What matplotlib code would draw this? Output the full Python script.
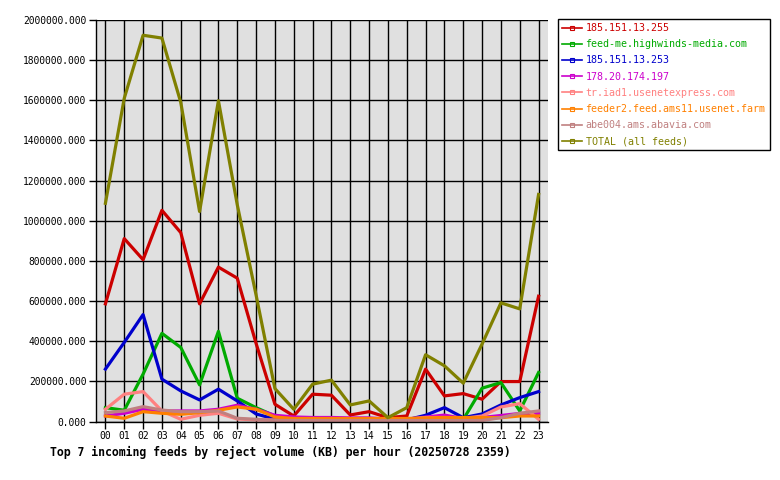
import numpy as np
import matplotlib.pyplot as plt

hours = ["%02d" % h for h in range(24)]

feeds = ["185.151.13.255", "feed-me.highwinds-media.com", "185.151.13.253",
         "178.20.174.197", "tr.iad1.usenetexpress.com", "feeder2.feed.ams11.usenet.farm",
         "abe004.ams.abavia.com", "TOTAL (all feeds)"]
colors = ["#cc0000", "#00aa00", "#0000cc", "#cc00cc", "#ff8080", "#ff8000", "#c08080", "#808000"]

# KB per hour
red = [586000, 911000, 806000, 1052000, 941000, 586000, 769000, 714000, 389000, 86000,
       27500, 136000, 131000, 32500, 49000, 19000, 27500, 261000, 127500, 139000,
       111000, 199000, 199000, 624000]
green = [69000, 56000, 236000, 439000, 369000, 182500, 449000, 116000, 69000, 27500,
         12000, 10000, 10000, 10000, 10000, 10000, 10000, 12000, 12000, 10000,
         166000, 194000, 52500, 244000]
blue = [261000, 394000, 532500, 211000, 152500, 107500, 161000, 102500, 37500, 12000,
        10000, 12000, 14000, 12000, 10000, 8000, 8000, 31000, 69000, 19000,
        37500, 82500, 119000, 149000]
magenta = [27500, 41000, 61000, 52500, 52500, 52500, 61000, 81000, 61000, 31000,
           22500, 20000, 20000, 18000, 18000, 12000, 12000, 22000, 32000, 15000,
           20000, 30000, 40000, 40000]
salmon = [61000, 136000, 149000, 52500, 11000, 31000, 41000, 12500, 8000, 8000,
          8000, 8000, 8000, 8000, 8000, 8000, 10000, 20000, 20000, 15000,
          27500, 72500, 89000, 11000]
orange = [27500, 16000, 49000, 41000, 36000, 44000, 56000, 72500, 61000, 22500,
          15000, 15000, 15000, 15000, 15000, 15000, 15000, 18000, 20000, 20000,
          20000, 19000, 27500, 27500]
brown = [44000, 52500, 74000, 57000, 49000, 49000, 52500, 16000, 11000, 5000,
         5000, 5000, 5000, 5000, 5000, 5000, 5000, 5000, 5000, 5000,
         5000, 19000, 41000, 52500]
total = [1087000, 1610000, 1924000, 1910000, 1590000, 1046000, 1598000, 1080000, 630000, 164000,
         61000, 186000, 206000, 82500, 102500, 19000, 69000, 332500, 277500, 191000,
         386000, 591000, 561000, 1131000]

series = [red, green, blue, magenta, salmon, orange, brown, total]

plt.rcParams['font.family'] = ['DejaVu Sans Mono']

fig = plt.figure(figsize=(7.8, 4.8), dpi=100)
ax = fig.add_axes([96/780, 1 - 421.5/480, (548-96)/780, (421.5-20)/480])
ax.set_facecolor("#e0e0e0")

x = np.arange(len(hours))
for vals, name, c in zip(series, feeds, colors):
    ax.plot(x, vals, color=c, lw=2.3, label=name)

ax.set_xlim(-0.5, 23.5)
ax.set_ylim(0, 2000000)
ax.set_xticks(x)
ax.set_xticklabels(hours, fontsize=7)
yt = np.arange(0, 2000001, 200000)
ax.set_yticks(yt)
ax.set_yticklabels(["%.3f" % v for v in yt], fontsize=6.9)
ax.grid(True, color="black", lw=1)
ax.set_axisbelow(True)
ax.tick_params(length=5, width=1, color="black", pad=2)
for s in ax.spines.values():
    s.set_linewidth(1)
ax.spines["top"].set_visible(False)
ax.spines["right"].set_visible(False)

# legend keys: thin line with a small open square in the middle
handles = []
for c in colors:
    h, = ax.plot([], [], color=c, lw=1.2, marker="s", markersize=3.5,
                 markerfacecolor="none", markeredgewidth=0.8)
    handles.append(h)
leg = fig.legend(handles, feeds, loc="upper left", bbox_to_anchor=(558/780, 1 - 19/480),
                 fancybox=False, edgecolor="black", framealpha=1, fontsize=7.2,
                 handlelength=2.0, handletextpad=0.35, labelspacing=0.62,
                 borderpad=0.4, borderaxespad=0, numpoints=1)
leg.get_frame().set_linewidth(1)
for t, c in zip(leg.get_texts(), colors):
    t.set_color(c)

fig.text(50/780, 1 - 452/480, "Top 7 incoming feeds by reject volume (KB) per hour (20250728 2359)",
         fontsize=8.3, fontweight="bold", va="center", ha="left")

fig.savefig("out.png", dpi=100)
